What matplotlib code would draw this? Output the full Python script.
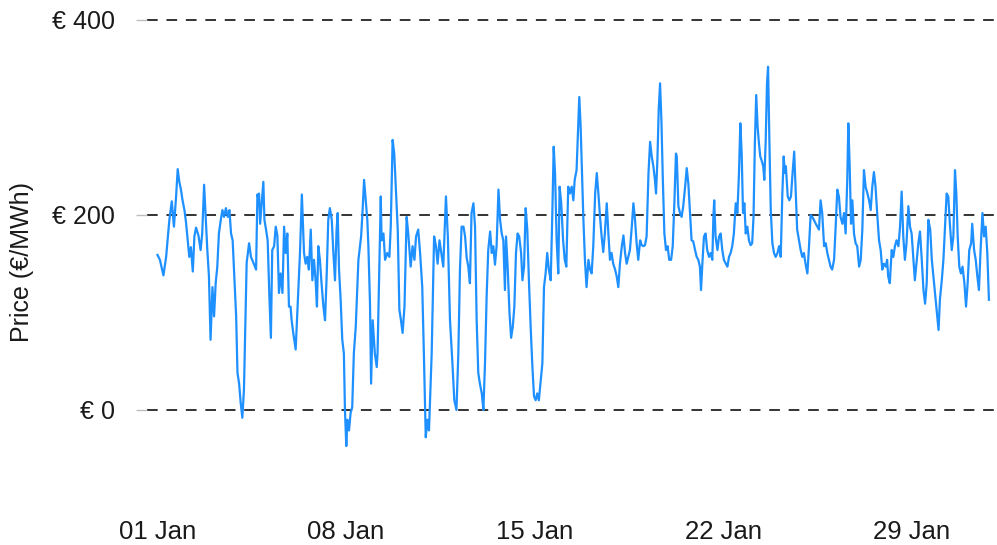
import matplotlib
matplotlib.use("Agg")
import matplotlib.pyplot as plt

# hourly day-ahead price (days after 01 Jan 00:00)
days = [
    0.00, 0.09, 0.22, 0.32, 0.44, 0.53, 0.61, 0.69, 0.75, 0.81, 0.87, 0.93, 1.00, 1.06, 1.12,
    1.18, 1.24, 1.31, 1.37, 1.43, 1.52, 1.60, 1.66, 1.73, 1.79, 1.85, 1.91, 1.97, 2.04, 2.10,
    2.16, 2.22, 2.28, 2.35, 2.41, 2.47, 2.54, 2.61, 2.67, 2.73, 2.79, 2.85, 2.92, 2.97, 3.03,
    3.09, 3.15, 3.21, 3.27, 3.31, 3.40, 3.47, 3.56, 3.66, 3.71,
    3.72, 3.77, 3.81, 3.87, 3.93, 3.97, 4.03, 4.09, 4.15, 4.21, 4.26, 4.33, 4.39, 4.45, 4.51,
    4.57, 4.64, 4.70, 4.76, 4.82, 4.88, 4.94, 4.98, 5.04, 5.13, 5.20, 5.29, 5.36, 5.44, 5.50,
    5.56, 5.62, 5.69, 5.75, 5.81, 5.87, 5.92, 5.97, 6.03, 6.09, 6.16, 6.22, 6.28, 6.34, 6.40,
    6.47, 6.53, 6.59, 6.65, 6.69, 6.74, 6.80, 6.86, 6.92, 6.96, 7.01, 7.05, 7.11, 7.17, 7.23,
    7.29, 7.36, 7.46, 7.56, 7.61,
    7.67, 7.79, 7.83, 7.89, 7.93, 7.99, 8.07, 8.14, 8.17, 8.22, 8.29, 8.32, 8.39, 8.45, 8.53,
    8.61, 8.66, 8.73, 8.79, 8.86, 8.92, 8.98, 9.04, 9.10, 9.17, 9.25, 9.31, 9.40, 9.47, 9.54,
    9.60, 9.68, 9.75, 9.83, 9.89, 9.96, 10.02, 10.08, 10.18, 10.27, 10.34, 10.40, 10.47, 10.61, 10.71,
    10.78, 10.86, 10.95, 11.02, 11.10, 11.17, 11.23, 11.29, 11.36,
    11.42, 11.48, 11.54, 11.60, 11.66, 11.73, 11.79, 11.85, 11.91, 11.97, 12.04, 12.10, 12.16, 12.22, 12.28,
    12.35, 12.41, 12.47, 12.53, 12.59, 12.66, 12.72, 12.78, 12.84, 12.90, 12.94, 13.00, 13.07, 13.13, 13.19,
    13.25, 13.31, 13.37, 13.43, 13.50, 13.55, 13.61, 13.67, 13.73, 13.79, 13.86, 13.92, 13.98, 14.04, 14.10,
    14.16, 14.22, 14.29, 14.35, 14.41, 14.47, 14.53, 14.60, 14.66, 14.71, 14.76, 14.82, 14.88, 14.93, 14.99,
    15.06, 15.12, 15.18, 15.25, 15.31,
    15.38, 15.44, 15.49, 15.56, 15.62, 15.66, 15.71, 15.76, 15.81, 15.87, 15.93, 16.00, 16.06, 16.12, 16.18,
    16.25, 16.31, 16.37, 16.43, 16.49, 16.55, 16.61, 16.68, 16.74, 16.80, 16.86, 16.92, 16.99, 17.05, 17.11,
    17.17, 17.24, 17.30, 17.36, 17.42, 17.48, 17.54, 17.61, 17.67, 17.73, 17.79, 17.85, 17.92, 17.98, 18.04,
    18.10, 18.16, 18.23, 18.29, 18.35, 18.41, 18.47, 18.51, 18.56, 18.61, 18.66, 18.71, 18.76, 18.82, 18.88,
    18.94, 19.00, 19.07, 19.13, 19.19, 19.25,
    19.28, 19.34, 19.40, 19.46, 19.52, 19.59, 19.65, 19.71, 19.77, 19.83, 19.89, 19.96, 20.02, 20.08, 20.14,
    20.18, 20.23, 20.29, 20.35, 20.41, 20.48, 20.54, 20.60, 20.64, 20.67, 20.72, 20.79, 20.85, 20.91, 20.97,
    21.03, 21.10, 21.16, 21.22, 21.28, 21.34, 21.40, 21.47, 21.53, 21.59, 21.64, 21.69, 21.74, 21.79, 21.84,
    21.90, 21.96, 22.02, 22.08, 22.13, 22.18, 22.23, 22.28, 22.33, 22.38, 22.43, 22.49, 22.53, 22.58, 22.63,
    22.67, 22.72, 22.77, 22.83, 22.89, 22.95, 23.02, 23.08, 23.14, 23.20, 23.25,
    23.29, 23.33, 23.40, 23.46, 23.52, 23.58, 23.64, 23.69, 23.75, 23.82, 23.88, 23.94, 24.00, 24.06, 24.13,
    24.19, 24.25, 24.31, 24.37, 24.44, 24.50, 24.56, 24.62, 24.68, 24.75, 24.81, 24.87, 24.93, 24.99, 25.05,
    25.12, 25.18, 25.24, 25.30, 25.36, 25.43, 25.49, 25.55, 25.61, 25.65, 25.70, 25.75, 25.80, 25.86, 25.92,
    25.98, 26.05, 26.11, 26.17, 26.23, 26.29, 26.36, 26.42, 26.48, 26.54, 26.60, 26.66, 26.73, 26.79, 26.85,
    26.91, 26.97, 27.04, 27.09,
    27.13, 27.19, 27.26, 27.32, 27.38, 27.44, 27.51, 27.57, 27.63, 27.69, 27.75, 27.81, 27.88, 27.94, 28.00,
    28.06, 28.12, 28.19, 28.25, 28.31, 28.37, 28.44, 28.50, 28.56, 28.62, 28.69, 28.75, 28.81, 28.87, 28.93,
    29.00, 29.05, 29.12, 29.18, 29.24, 29.30, 29.36, 29.42, 29.49, 29.55, 29.61, 29.66, 29.71, 29.77, 29.83,
    29.89, 29.96, 30.02, 30.08, 30.14, 30.21, 30.25, 30.32, 30.38, 30.44, 30.50, 30.56, 30.63, 30.69, 30.75,
    30.81, 30.87,
]

price = [
    159, 154, 138, 157, 195, 214, 188, 219, 247, 234, 226, 215, 205, 192, 174,
    157, 167, 142, 178, 187, 179, 164, 181, 231, 198, 164, 137, 72, 126, 96,
    130, 147, 181, 195, 205, 198, 207, 198, 205, 181, 174, 137, 96, 38, 27,
    7, -8, 21, 96, 151, 171, 157, 151, 144, 221,
    219, 222, 191, 212, 234, 195, 185, 174, 120, 74, 164, 168, 188, 179, 120,
    140, 120, 188, 161, 181, 106, 106, 92, 79, 62, 106, 161, 221, 161, 150,
    157, 144, 185, 133, 154, 133, 106, 168, 154, 130, 106, 92, 137, 195, 207,
    195, 161, 133, 185, 202, 144, 113, 72, 58, 0, -37, -10, -21, -3, 3,
    58, 85, 154, 178, 202,
    236, 195, 168, 109, 27, 92, 58, 44, 58, 126, 219, 174, 181, 154, 161,
    157, 188, 277, 263, 222, 185, 103, 92, 79, 106, 198, 181, 147, 168, 154,
    178, 185, 161, 126, 58, -28, -10, -21, 58, 178, 168, 150, 174, 147, 219,
    178, 92, 48, 10, 0, 58, 144, 188, 188,
    178, 156, 147, 130, 202, 212, 188, 92, 38, 27, 17, 0, 48, 116, 164,
    183, 161, 168, 149, 168, 226, 195, 181, 174, 123, 178, 147, 99, 74, 85,
    106, 161, 181, 178, 161, 133, 147, 207, 185, 133, 82, 44, 14, 10, 17,
    10, 27, 48, 126, 140, 161, 144, 133, 202, 270, 243, 174, 140, 229, 212,
    174, 154, 147, 229, 222,
    229, 215, 236, 246, 291, 321, 291, 246, 198, 154, 126, 154, 144, 140, 168,
    222, 243, 222, 198, 178, 162, 181, 212, 181, 154, 161, 150, 144, 137, 126,
    150, 168, 179, 161, 150, 157, 164, 188, 212, 195, 171, 154, 174, 169, 168,
    169, 178, 243, 275, 260, 250, 236, 222, 256, 308, 335, 297, 239, 181, 164,
    168, 154, 154, 168, 212, 263,
    260, 209, 202, 198, 209, 229, 248, 232, 202, 174, 173, 164, 157, 154, 147,
    123, 150, 178, 181, 164, 157, 161, 154, 198, 215, 178, 164, 178, 181, 164,
    154, 150, 147, 157, 161, 168, 181, 212, 202, 243, 294, 263, 202, 212, 181,
    188, 174, 169, 171, 198, 274, 323, 291, 274, 260, 256, 250, 236, 274, 335,
    352, 274, 205, 171, 161, 157, 161, 168, 157, 222, 260,
    243, 250, 219, 215, 219, 243, 265, 229, 185, 174, 164, 157, 161, 150, 140,
    168, 200, 198, 195, 191, 188, 185, 215, 202, 168, 171, 161, 154, 147, 144,
    154, 188, 226, 219, 198, 191, 202, 181, 236, 294, 250, 191, 215, 181, 171,
    168, 147, 154, 185, 246, 229, 222, 215, 205, 229, 244, 229, 198, 174, 164,
    144, 150, 147, 154,
    137, 130, 164, 157, 168, 174, 168, 188, 224, 178, 154, 171, 209, 188, 181,
    157, 133, 154, 171, 183, 157, 123, 109, 130, 195, 185, 154, 137, 120, 103,
    82, 113, 133, 154, 188, 222, 219, 191, 164, 178, 246, 222, 178, 147, 140,
    147, 130, 106, 130, 164, 171, 191, 164, 154, 137, 123, 164, 202, 178, 188,
    161, 113,
]

x_ticks = [0, 7, 14, 21, 28]
x_labels = ["01 Jan", "08 Jan", "15 Jan", "22 Jan", "29 Jan"]
y_ticks = [0, 200, 400]
y_labels = ["€ 0", "€ 200", "€ 400"]

plt.rcParams["font.family"] = ["Liberation Sans", "DejaVu Sans"]

fig = plt.figure(figsize=(9.97, 5.45), dpi=100)
ax = fig.add_axes([147 / 997, 35 / 545, 850 / 997, 507 / 545])

# dashed reference lines at the y breaks
for y in y_ticks:
    ax.axhline(y, color="#333333", lw=1.4, ls=(0, (5.5, 4.5)), zorder=1)

ax.plot(days, price, color="#1E90FF", lw=1.6, zorder=2)

ax.set_xlim(-0.39, 31.17)
ax.set_ylim(-102.6, 417.4)

ax.set_xticks(x_ticks)
ax.set_xticklabels(x_labels)
ax.set_yticks(y_ticks)
ax.set_yticklabels(y_labels)
ax.tick_params(axis="x", length=0, pad=7, labelsize=18.5, labelcolor="#1a1a1a")
ax.tick_params(axis="y", length=8, width=1, color="#bdbdbd", pad=15,
               labelsize=18, labelcolor="#1a1a1a")

for s in ax.spines.values():
    s.set_visible(False)

fig.text(22 / 997, 1 - 262 / 545, "Price (€/MWh)", rotation=90,
         ha="center", va="center", fontsize=18, color="#1a1a1a")

fig.savefig("out.png", dpi=100, facecolor="white")
